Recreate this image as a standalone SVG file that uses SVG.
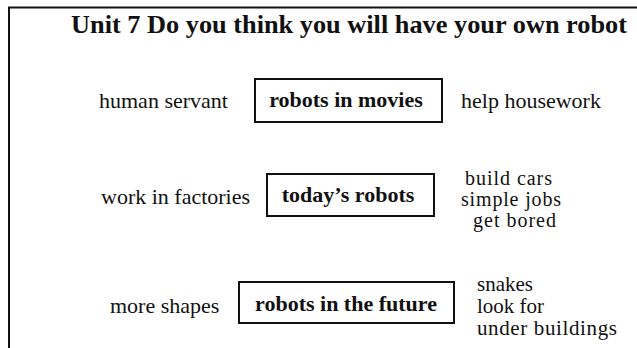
<svg xmlns="http://www.w3.org/2000/svg" width="637" height="348" viewBox="0 0 637 348">
<style>
text{font-family:'Liberation Serif','DejaVu Serif',serif;fill:#111}
.t{font-size:22px}
.r{font-size:21px}
.s{font-size:20px}
.b{font-size:22px;font-weight:bold;text-anchor:middle}
.title{font-size:26px;font-weight:bold}
.box{fill:#fff;stroke:#111;stroke-width:2}
.frame{fill:none;stroke:#111;stroke-width:2}
</style>
<rect width="637" height="348" fill="#fff"/>
<path class="frame" d="M9,350 V7.5 H640"/>
<text class="title" x="71" y="33" textLength="556" lengthAdjust="spacingAndGlyphs">Unit 7 Do you think you will have your own robot</text>
<g id="connectors"></g>
<g id="row1">
<text class="t" x="99" y="108">human servant</text>
<g id="robots-in-movies">
<rect class="box" x="255" y="79" width="187" height="43"/>
<text class="b" x="346" y="107">robots in movies</text>
</g>
<text class="t" x="461" y="108">help housework</text>
</g>
<g id="row2">
<text class="t" x="101" y="204">work in factories</text>
<g id="todays-robots">
<rect class="box" x="267" y="174" width="167" height="42"/>
<text class="b" x="348" y="202">today’s robots</text>
</g>
<text class="s" x="465" y="185" textLength="87">build cars</text>
<text class="s" x="461" y="206" textLength="100">simple jobs</text>
<text class="s" x="473" y="227" textLength="83">get bored</text>
</g>
<g id="row3">
<text class="t" x="110" y="313">more shapes</text>
<g id="robots-in-the-future">
<rect class="box" x="239" y="282" width="215" height="41"/>
<text class="b" x="346" y="311">robots in the future</text>
</g>
<text class="r" x="477" y="291">snakes</text>
<text class="r" x="477" y="313">look for</text>
<text class="r" x="477" y="335" textLength="140">under buildings</text>
</g>
</svg>
